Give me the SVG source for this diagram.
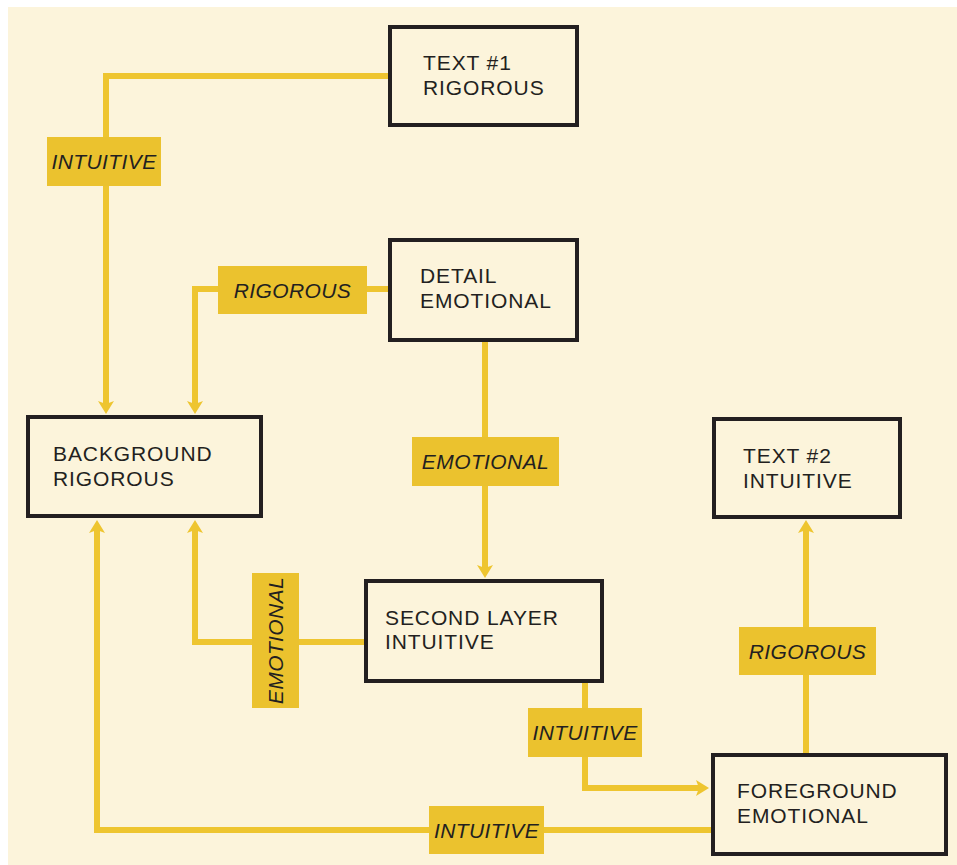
<svg xmlns="http://www.w3.org/2000/svg" width="957" height="865" viewBox="0 0 957 865">
<defs>
<style>
.node rect{fill:#FCF4DB;stroke:#231F20;stroke-width:4}
.node text{font-family:"Liberation Sans","Noto Sans",sans-serif;font-size:21px;fill:#231F20;letter-spacing:0.9px}
.conn path{fill:none;stroke:#EEC530;stroke-width:6;stroke-linejoin:miter;stroke-linecap:butt}
.lbl rect{fill:#EBC22E}
.lbl text{font-family:"Liberation Sans","Noto Sans",sans-serif;font-size:21px;font-style:italic;fill:#231F20;text-anchor:middle;letter-spacing:0.4px}
</style>
<marker id="arr" markerUnits="userSpaceOnUse" markerWidth="16" markerHeight="18" viewBox="0 -9 14 18" refX="4" refY="0" orient="auto">
<path d="M0,-8 L13,0 L0,8 L3,0 Z" fill="#EEC530"/>
</marker>
</defs>
<rect x="0" y="0" width="957" height="865" fill="#FFFFFF"/>
<rect x="8" y="7" width="949" height="858" fill="#FCF4DB"/>
<g id="connectors" class="conn">
<path d="M388,76 H106 V405" marker-end="url(#arr)"/>
<path d="M388,289 H195 V405" marker-end="url(#arr)"/>
<path d="M485,342 V569" marker-end="url(#arr)"/>
<path d="M364,642 H195 V529" marker-end="url(#arr)"/>
<path d="M585,683 V788 H700" marker-end="url(#arr)"/>
<path d="M711,830 H97 V529" marker-end="url(#arr)"/>
<path d="M806,753 V529" marker-end="url(#arr)"/>
</g>
<g id="labels">
<g class="lbl" id="lbl-intuitive-1"><rect x="47" y="137" width="114" height="49"/><text x="104" y="169">INTUITIVE</text></g>
<g class="lbl" id="lbl-rigorous-1"><rect x="218" y="266" width="149" height="48"/><text x="292.5" y="297.5">RIGOROUS</text></g>
<g class="lbl" id="lbl-emotional-1"><rect x="412" y="437" width="147" height="49"/><text x="485.5" y="469">EMOTIONAL</text></g>
<g class="lbl" id="lbl-emotional-2"><rect x="252" y="573" width="47" height="135"/><text x="0" y="0" transform="translate(283,640.5) rotate(-90)">EMOTIONAL</text></g>
<g class="lbl" id="lbl-intuitive-2"><rect x="528" y="708" width="114" height="49"/><text x="585" y="740">INTUITIVE</text></g>
<g class="lbl" id="lbl-intuitive-3"><rect x="429" y="806" width="115" height="48"/><text x="486.5" y="837.5">INTUITIVE</text></g>
<g class="lbl" id="lbl-rigorous-2"><rect x="739" y="627" width="137" height="48"/><text x="807.5" y="658.5">RIGOROUS</text></g>
</g>
<g id="text1" class="node"><rect x="390" y="27" width="187" height="98"/><text x="423" y="70">TEXT #1</text><text x="423" y="95">RIGOROUS</text></g>
<g id="detail" class="node"><rect x="390" y="240" width="187" height="100"/><text x="420" y="283">DETAIL</text><text x="420" y="308">EMOTIONAL</text></g>
<g id="background" class="node"><rect x="28" y="417" width="233" height="99"/><text x="53" y="461">BACKGROUND</text><text x="53" y="486">RIGOROUS</text></g>
<g id="text2" class="node"><rect x="714" y="419" width="186" height="98"/><text x="743" y="463">TEXT #2</text><text x="743" y="488">INTUITIVE</text></g>
<g id="secondlayer" class="node"><rect x="366" y="581" width="236" height="100"/><text x="385" y="625">SECOND LAYER</text><text x="385" y="649">INTUITIVE</text></g>
<g id="foreground" class="node"><rect x="713" y="755" width="233" height="99"/><text x="737" y="798">FOREGROUND</text><text x="737" y="823">EMOTIONAL</text></g>
</svg>
